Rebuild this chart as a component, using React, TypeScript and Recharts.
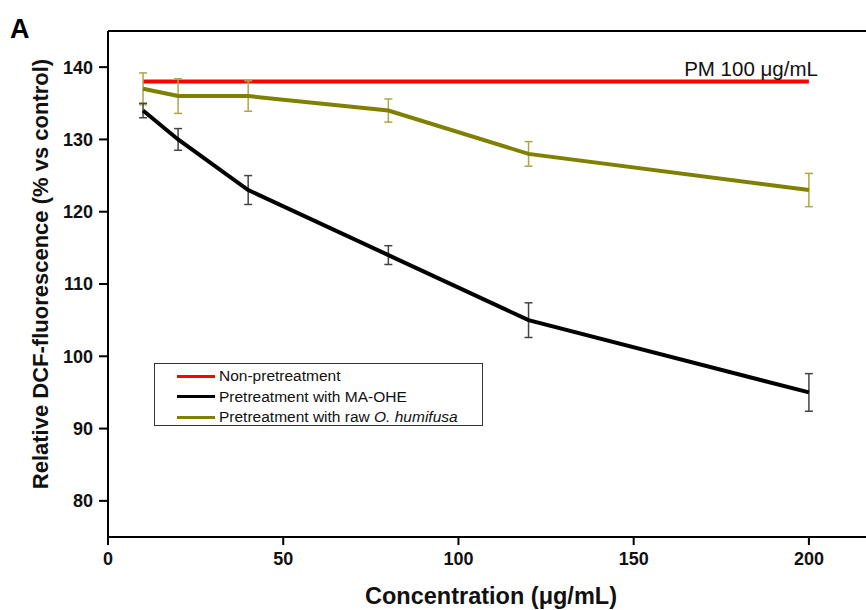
import React from 'react';
import { LineChart, Line, XAxis, YAxis, ErrorBar, Legend, ReferenceLine, LabelList } from 'recharts';

const concentrations = [10, 20, 40, 80, 120, 200];
const nonPretreatment = [138, 138, 138, 138, 138, 138];
const maOhe = [134, 130, 123, 114, 105, 95];
const maOheErr = [1.0, 1.5, 2.0, 1.3, 2.4, 2.6];
const rawHumifusa = [137, 136, 136, 134, 128, 123];
const rawHumifusaErr = [2.2, 2.4, 2.1, 1.6, 1.7, 2.3];
const xTicks = [0, 50, 100, 150, 200];
const yTicks = [80, 90, 100, 110, 120, 130, 140];

const data = concentrations.map((c, i) => ({
  conc: c,
  non: nonPretreatment[i],
  ma: maOhe[i],
  maErr: maOheErr[i],
  raw: rawHumifusa[i],
  rawErr: rawHumifusaErr[i],
}));

const FONT = 'Arial, "Liberation Sans", sans-serif';

const LegendBox = () => {
  const row = (color: string, label: React.ReactNode) => (
    <div style={{ display: 'flex', alignItems: 'center', height: 20.5 }}>
      <div style={{ width: 38, height: 3, background: color, marginLeft: 22, marginRight: 4 }} />
      <span style={{ fontSize: 15.5, color: '#111', fontFamily: FONT, whiteSpace: 'nowrap' }}>{label}</span>
    </div>
  );
  return (
    <div style={{ border: '1px solid #333', width: 329, height: 63, boxSizing: 'border-box', paddingTop: 2, background: 'white', textAlign: 'left' }}>
      {row('#ff0000', 'Non-pretreatment')}
      {row('#000000', 'Pretreatment with MA-OHE')}
      {row('#7f7f00', <>Pretreatment with raw <i>O. humifusa</i></>)}
    </div>
  );
};

const PmLabel = (props: any) => {
  const { x, y, index } = props;
  if (index !== concentrations.length - 1) return null;
  return (
    <text x={x + 9} y={y - 6} textAnchor="end" fontSize={20.5} fontFamily={FONT} fill="#111">
      PM 100 μg/mL
    </text>
  );
};

export default function App() {
  return (
    <div style={{ position: 'absolute', left: 0, top: 0, width: 866, height: 610, overflow: 'hidden', background: 'white' }}>
      <div style={{ position: 'absolute', left: 10, top: 14, fontSize: 27, fontWeight: 'bold', fontFamily: FONT, color: '#000' }}>A</div>
      <LineChart width={890} height={610} data={data} margin={{ top: 31, right: 11, bottom: 0, left: 0 }}>
        <XAxis
          dataKey="conc"
          type="number"
          domain={[0, 220]}
          ticks={xTicks}
          allowDataOverflow
          height={73}
          stroke="#000"
          strokeWidth={2}
          tickSize={8}
          tickMargin={7}
          tick={{ fill: '#111', fontSize: 18, fontWeight: 'bold', fontFamily: FONT }}
          label={() => (
            <text x={491} y={604} textAnchor="middle" fontSize={23.5} fontWeight="bold" fontFamily={FONT} fill="#111">
              Concentration (μg/mL)
            </text>
          )}
        />
        <YAxis
          type="number"
          domain={[75, 145]}
          ticks={yTicks}
          allowDataOverflow
          width={108}
          stroke="#000"
          strokeWidth={2}
          tickSize={9}
          tickMargin={6}
          tick={{ fill: '#111', fontSize: 18, fontWeight: 'bold', fontFamily: FONT }}
          label={() => (
            <text
              x={48}
              y={274}
              transform="rotate(-90 48 274)"
              textAnchor="middle"
              fontSize={22}
              fontWeight="bold"
              fontFamily={FONT}
              fill="#111"
            >
              Relative DCF-fluorescence (% vs control)
            </text>
          )}
        />
        <ReferenceLine y={145} stroke="#000" strokeWidth={2} ifOverflow="visible" />
        <Line dataKey="non" stroke="#ff0000" strokeWidth={4} dot={false} isAnimationActive={false} type="linear">
          <LabelList dataKey="non" content={PmLabel} />
        </Line>
        <Line dataKey="raw" stroke="#7f7f00" strokeWidth={4} dot={false} isAnimationActive={false} type="linear">
          <ErrorBar dataKey="rawErr" direction="y" width={4} stroke="#a8a84a" strokeWidth={1.5} />
        </Line>
        <Line dataKey="ma" stroke="#000000" strokeWidth={4} dot={false} isAnimationActive={false} type="linear">
          <ErrorBar dataKey="maErr" direction="y" width={4} stroke="#444" strokeWidth={1.5} />
        </Line>
        <Legend
          layout="horizontal"
          verticalAlign="middle"
          align="center"
          content={() => <LegendBox />}
          wrapperStyle={{ position: 'absolute', left: 154, top: 363, width: 330, height: 64, bottom: 'auto', right: 'auto' }}
        />
      </LineChart>
    </div>
  );
}
